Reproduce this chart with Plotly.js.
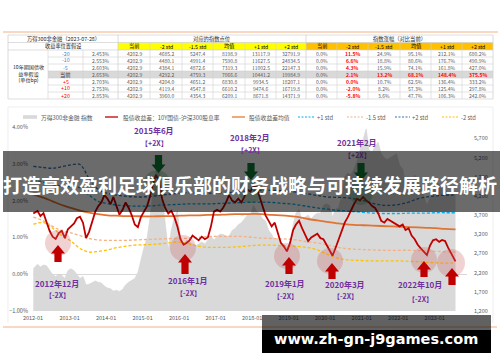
<!DOCTYPE html>
<html><head><meta charset="utf-8">
<script src="https://cdn.plot.ly/plotly-3.0.1.min.js"></script>
<style>html,body{margin:0;padding:0;background:#fff}#chart{width:500px;height:362px}</style>
</head><body><div id="chart"></div>
<script>
// ---------------- DATA ----------------
const seriesNames = ['万得300非金融 指数','股债收益差：10Y国债-沪深300股息率','股债收益差均值','+1 std','-1.5 std','+2 std','-2 std'];

// monthly, 2012-01 .. 2023-07 (right axis, index points)
const indexLevel = [
 2300,2420,2350,2400,2380,2250,2150,2100,2160,2130,2050,2250,
 2300,2250,2150,2050,2100,1880,1900,1950,1980,1950,1930,1850,
 1800,1780,1720,1740,1710,1760,1880,1950,2000,2050,2200,2550,
 2850,3100,3600,4300,4850,5000,4200,3500,2800,3300,3650,3800,
 3100,2850,3050,3000,2950,2900,2950,3000,2950,3050,3150,3050,
 3150,3200,3200,3150,3150,3300,3350,3450,3500,3600,3700,3700,
 3950,3800,3750,3600,3550,3300,3200,3050,3100,2950,2950,2850,
 2950,3450,3750,3850,3550,3650,3700,3600,3700,3750,3750,3950,
 4000,3950,3650,3850,3900,4200,4700,4800,4750,4900,5100,5400,
 5700,5950,5400,5350,5500,5600,5300,5200,5150,5200,5250,5300,
 5000,4900,4550,4200,4400,4750,4550,4450,4200,3950,4150,4200,
 4550,4500,4450,4400,4250,4200,4300];

// monthly, 2012-01 .. 2023-07 (left axis, %)
const spreadPct = [
 1.65,1.72,1.58,1.66,1.42,1.18,1.02,0.96,1.12,1.18,0.98,1.22,
 1.30,1.38,1.52,1.56,1.40,0.98,1.15,1.45,1.70,1.85,1.95,2.15,
 2.05,1.90,2.10,1.85,1.62,1.75,1.95,1.80,1.60,1.35,1.28,1.55,
 1.70,1.85,2.10,2.45,2.70,2.55,2.05,1.80,1.65,1.72,1.55,1.30,
 0.95,0.80,0.85,0.92,1.05,0.98,0.92,1.02,0.95,1.00,1.30,1.70,
 1.75,1.70,1.80,1.95,2.15,2.00,1.95,2.05,1.95,2.10,2.30,2.25,
 2.40,2.35,2.10,1.85,1.60,1.45,1.30,1.40,1.15,0.85,0.75,0.62,
 0.85,1.20,1.35,1.45,1.25,1.05,0.90,1.00,1.05,1.10,0.98,0.95,
 0.80,0.65,0.50,0.72,0.95,1.20,1.40,1.55,1.75,1.90,2.05,2.00,
 2.10,2.00,1.95,1.85,1.80,1.65,1.45,1.40,1.50,1.45,1.40,1.35,
 1.30,1.35,1.20,1.25,1.05,0.95,0.80,0.70,0.62,0.52,0.78,0.92,
 0.95,0.88,0.93,0.90,0.72,0.55,0.35];

// quarterly, 2012Q1 .. 2023Q3 (left axis, %)
const meanPct = [
 2.17,2.08,1.98,1.88, 1.80,1.73,1.67,1.63, 1.60,1.59,1.58,1.58, 1.57,1.57,1.58,1.58,
 1.59,1.60,1.60,1.61, 1.61,1.62,1.63,1.63, 1.64,1.63,1.61,1.60, 1.58,1.55,1.50,1.46,
 1.42,1.39,1.36,1.34, 1.33,1.32,1.31,1.30, 1.29,1.28,1.27,1.26, 1.25,1.23,1.22];
const plus1Pct = [
 2.55,2.50,2.43,2.40, 2.38,2.35,2.15,1.98, 1.92,1.88,1.86,1.85, 1.85,1.86,1.88,1.89,
 1.90,1.91,1.91,1.91, 1.92,1.93,1.94,1.95, 1.96,1.96,1.95,1.93, 1.91,1.88,1.84,1.80,
 1.77,1.74,1.72,1.70, 1.68,1.66,1.65,1.65, 1.65,1.66,1.66,1.66, 1.67,1.67,1.67];
const minus15Pct = [
 1.55,1.45,1.30,1.18, 1.12,1.05,0.97,0.93, 0.92,0.92,0.92,0.93, 0.94,0.95,0.96,0.97,
 0.97,0.98,1.00,1.02, 1.03,1.03,1.03,1.02, 1.00,0.98,0.97,0.96, 0.95,0.92,0.88,0.85,
 0.80,0.74,0.70,0.68, 0.67,0.66,0.65,0.65, 0.65,0.65,0.64,0.63, 0.62,0.61,0.60];
const plus2Pct = [
 2.93,2.90,2.88,2.92, 2.97,2.98,2.60,2.30, 2.20,2.15,2.12,2.10, 2.10,2.12,2.15,2.18,
 2.20,2.21,2.20,2.20, 2.21,2.22,2.23,2.25, 2.27,2.28,2.28,2.27, 2.25,2.22,2.18,2.14,
 2.10,2.09,2.08,2.05, 2.00,1.93,1.88,1.87, 1.90,1.96,2.05,2.10, 2.13,2.15,2.15];
const minus2Pct = [
 1.36,1.40,1.25,1.05, 0.90,0.70,0.60,0.62, 0.66,0.72,0.76,0.79, 0.80,0.81,0.83,0.86,
 0.87,0.82,0.76,0.73, 0.73,0.73,0.74,0.76, 0.78,0.79,0.79,0.78, 0.77,0.75,0.72,0.66,
 0.55,0.45,0.40,0.38, 0.37,0.36,0.36,0.36, 0.36,0.35,0.34,0.32, 0.31,0.30,0.30];

const rightTicks = [1200,1700,2200,2700,3200,3700,4200,4700,5200,5700];

// table
const tableTitle = '万得300非金融（2023-07-28）';
const tableSub = '收益率位置假设';
const sectionPoints = '对应的指数点位';
const sectionChange = '指数涨幅（对比当前）';
const rowLabel = '10年期国债收<br>益率假设<br>(单位bp)';
const yieldShifts = ['-20','-10','-5','当前','+5','+10','+20'];
const yieldLevels = ['2.453%','2.553%','2.603%','2.653%','2.703%','2.753%','2.853%'];
const stdHeads = ['当前','-2 std','-1.5 std','均值','+1 std','+2 std'];
const idxPoints = [
 [4202.9,4685.2,5247.4,8198.9,13117.9,32791.9],
 [4202.9,4480.1,4991.4,7590.8,11627.5,24834.5],
 [4202.9,4384.1,4872.6,7319.3,11002.5,22147.3],
 [4202.9,4292.2,4759.3,7066.6,10441.2,19984.9],
 [4202.9,4204.0,4651.2,6830.8,9934.5,18207.1],
 [4202.9,4119.4,4547.8,6610.2,9474.6,16719.8],
 [4202.9,3960.0,4354.3,6209.1,8671.8,14371.9]];
const idxChange = [
 [0.0,11.5,24.9,95.1,212.1,680.2],
 [0.0,6.6,18.8,80.6,176.7,490.9],
 [0.0,4.3,15.9,74.1,161.8,427.0],
 [0.0,2.1,13.2,68.1,148.4,375.5],
 [0.0,0.0,10.7,62.5,136.4,333.2],
 [0.0,-2.0,8.2,57.3,125.4,297.8],
 [0.0,-5.8,3.6,47.7,106.3,242.0]];

const topNotes = ['2015年6月','2018年2月','2021年2月'];
const bottomNotes = ['2012年12月','2016年1月','2019年1月','2020年3月','2022年10月'];
const upTag = '【+2X】', downTag = '【-2X】';
const bannerText = '打造高效盈利足球俱乐部的财务战略与可持续发展路径解析';
const urlText = 'www.zh-gn-j9games.com';

// dates
const months = [];
for (let y = 2012; y <= 2023; y++) for (let m = 1; m <= 12; m++) {
  if (y === 2023 && m > 7) break;
  months.push(y + '-' + String(m).padStart(2,'0') + '-15');
}
months[0] = '2012-01-04'; months[months.length-1] = '2023-07-28';
const quarters = [];
for (let y = 2012; y <= 2023; y++) for (const m of [1,4,7,10]) {
  if (y === 2023 && m > 7) break;
  quarters.push(y + '-' + String(m).padStart(2,'0') + '-15');
}
quarters[0] = '2012-01-04'; quarters[quarters.length-1] = '2023-07-28';

// ---------------- GEOMETRY HELPERS ----------------
const W = 500, H = 362, ML = 33, MR = 33, MT = 127, MB = 51;
const PW = W - ML - MR, PH = H - MT - MB;
const fx = x => (x - ML) / PW;
const fy = y => (H - MB - y) / PH;
const FONT = 'Noto Sans CJK SC, Noto Sans, sans-serif';

const shapes = [];
const annotations = [];
function rect(x0, y0, x1, y1, fill, layer) {
  shapes.push({type:'rect', xref:'paper', yref:'paper', x0:fx(x0), x1:fx(x1), y0:fy(y1), y1:fy(y0),
    fillcolor: fill, line:{width:0}, layer: layer || 'above'});
}
function line(x0, y0, x1, y1, color, width, dash) {
  shapes.push({type:'line', xref:'paper', yref:'paper', x0:fx(x0), x1:fx(x1), y0:fy(y0), y1:fy(y1),
    line:{color:color, width:width, dash: dash || 'solid'}, layer:'above'});
}
function text(t, x, y, size, color, anchor, extra) {
  annotations.push(Object.assign({text:t, x:fx(x), y:fy(y), xref:'paper', yref:'paper', showarrow:false,
    xanchor: anchor || 'center', yanchor:'middle', borderpad:0,
    font:{family:FONT, size:size, color:color}}, extra || {}));
}
function circle(cx, cy, r, fill) {
  shapes.push({type:'circle', xref:'paper', yref:'paper', x0:fx(cx-r), x1:fx(cx+r), y0:fy(cy+r), y1:fy(cy-r),
    fillcolor: fill, line:{width:0}, layer:'above'});
}
function poly(pts, fill) {
  const p = pts.map((q,i) => (i ? 'L' : 'M') + fx(q[0]).toFixed(5) + ',' + fy(q[1]).toFixed(5)).join(' ') + ' Z';
  shapes.push({type:'path', xref:'paper', yref:'paper', path:p, fillcolor:fill, line:{width:0}, layer:'above'});
}
function upArrow(cx, top, bottom, fill) {
  const hw = 7, sw = 3.6, hh = 8.5;
  poly([[cx,top],[cx+hw,top+hh],[cx+sw,top+hh],[cx+sw,bottom],[cx-sw,bottom],[cx-sw,top+hh],[cx-hw,top+hh]], fill);
}
function downArrow(cx, top, bottom, fill) {
  const hw = 7, sw = 3.6, hh = 8.5;
  poly([[cx,bottom],[cx+hw,bottom-hh],[cx+sw,bottom-hh],[cx+sw,top],[cx-sw,top],[cx-sw,bottom-hh],[cx-hw,bottom-hh]], fill);
}

// ---------------- TABLE ----------------
line(3, 32, 498, 32, '#F4B183', 1.2);
const colEdges = [8,48,83,118,150,182,213,245,276,306,337,368,400,431,462,493];
const rowEdges = [35,42.5,50,57,64,71,78,85,92,99];
rect(118, 42.5, 306, 50, '#FFFF00');
rect(306, 42.5, 493, 50, '#FFC000');
rect(48, 71, 493, 78, '#D9D9D9');
const GL = '#D0D0D0';
[35,42.5,50,99].forEach(y => line(8, y, 493, y, GL, 0.7));
[57,64,71,78,85,92].forEach(y => line(48, y, 493, y, GL, 0.6));
[8,118,306,493].forEach(x => line(x, 35, x, 99, GL, 0.8));
[48,83].forEach(x => line(x, 50, x, 99, GL, 0.6));
[150,182,213,245,276,337,368,400,431,462].forEach(x => line(x, 42.5, x, 99, GL, 0.6));

const cc = i => (colEdges[i] + colEdges[i+1]) / 2;
const rc = i => (rowEdges[i] + rowEdges[i+1]) / 2;
text(tableTitle, 63, rc(0), 5.3, '#262626');
text(sectionPoints, 212, rc(0), 5.3, '#262626');
text(sectionChange, 399.5, rc(0), 5.3, '#262626');
text(tableSub, 63, rc(1), 5.2, '#262626');
stdHeads.forEach((h, j) => { text(h, cc(3+j), rc(1), 5.2, '#000'); text(h, cc(9+j), rc(1), 5.2, '#000'); });
text(rowLabel, 28, 73, 5.1, '#262626');
yieldShifts.forEach((s, i) => {
  const col = s.startsWith('-') ? '#2E8BD8' : (s.startsWith('+') ? '#FF0000' : '#404040');
  text(s, cc(1), rc(2+i), 5.3, col);
  text(yieldLevels[i], cc(2), rc(2+i), 5, '#595959');
  idxPoints[i].forEach((v, j) => text(v.toFixed(1), cc(3+j), rc(2+i), 5, '#595959'));
  idxChange[i].forEach((v, j) => {
    const red = (j === 1) || (i === 3 && j > 0);
    text(red ? '<b>' + v.toFixed(1) + '%</b>' : v.toFixed(1) + '%', cc(9+j), rc(2+i), 5, red ? '#FF0000' : '#595959');
  });
});

// ---------------- CARD + LEGEND ----------------
line(8, 107, 493, 107, '#E6E6E6', 0.7);
line(8, 107, 8, 323, '#E6E6E6', 0.7);
line(493, 107, 493, 323, '#E6E6E6', 0.7);
const LY = 117;
rect(23, LY-1.8, 37, LY+1.8, '#D9D9D9');
text(seriesNames[0], 40, LY, 5.8, '#595959', 'left');
line(105, LY, 118, LY, '#C00000', 1.3);
text(seriesNames[1], 122, LY, 5.8, '#595959', 'left');
line(232, LY, 245, LY, '#E8793A', 1.3);
text(seriesNames[2], 248, LY, 5.8, '#595959', 'left');
line(298, LY, 314, LY, '#00B0F0', 1.2, '2px,1.5px');
text(seriesNames[3], 316, LY, 5.8, '#595959', 'left');
line(347, LY, 363, LY, '#F4B183', 1.2, '2px,1.5px');
text(seriesNames[4], 365, LY, 5.8, '#595959', 'left');
line(395, LY, 410, LY, '#2E75B6', 1.2, '2px,1.5px');
text(seriesNames[5], 411, LY, 5.8, '#595959', 'left');
line(442, LY, 458, LY, '#FFC000', 1.2, '2px,1.5px');
text(seriesNames[6], 460, LY, 5.8, '#595959', 'left');

// ---------------- MARKERS ----------------
const PINK = 'rgba(205,95,95,0.28)', GREENC = 'rgba(40,150,80,0.28)';
const DRED = '#C00000', DGREEN = '#0E7A34';
circle(157, 183, 13, GREENC); downArrow(158.5, 155, 173, DGREEN);
circle(251, 191, 12, GREENC); downArrow(251, 163, 180, DGREEN);
circle(361, 193, 12, GREENC); downArrow(361, 163, 181, DGREEN);
circle(58, 243, 13, PINK);  upArrow(58, 245, 262, DRED);
circle(183, 248, 13, PINK); upArrow(185, 254, 274, DRED);
circle(287, 256, 13, PINK); upArrow(289, 257, 274, DRED);
circle(330, 261, 13, PINK); upArrow(332, 263, 279, DRED);
circle(424, 260, 13, PINK); upArrow(424, 261, 277, DRED);
circle(451, 263, 14, PINK); upArrow(452, 268, 285, DRED);

const PURPLE = '#7030A0';
const topPos = [[154,130,143],[250,137,150],[357,142,155]];
topNotes.forEach((t, i) => {
  text('<b>' + t + '</b>', topPos[i][0], topPos[i][1], 8, PURPLE);
  text('<b>' + upTag + '</b>', topPos[i][0], topPos[i][2], 7, i === 2 ? '#3A1C55' : PURPLE);
});
const botPos = [[57,283,295],[188,280,293],[285,283,296],[345,284,296],[420,284,299]];
bottomNotes.forEach((t, i) => {
  text('<b>' + t + '</b>', botPos[i][0], botPos[i][1], 8, PURPLE);
  text('<b>' + downTag + '</b>', botPos[i][0], botPos[i][2], 7, PURPLE);
});

// ---------------- OVERLAYS ----------------
line(3, 327, 497, 327, '#F4B183', 1.2);
rect(3, 151, 500, 212, 'rgba(0,0,0,0.58)');
text('<b>' + bannerText + '</b>', 250, 184, 19, '#FFFFFF');
rect(262, 315, 491, 330, 'rgba(0,0,0,0.62)');
rect(262, 330, 491, 353, '#000000');
annotations.push({text:'<b>' + urlText + '</b>', x:fx(376), y:fy(338.5), xref:'paper', yref:'paper',
  showarrow:false, xanchor:'center', yanchor:'middle', font:{family:'DejaVu Sans', size:14.5, color:'#FFFFFF'}});

// ---------------- TRACES ----------------
const dash = '3px,2px';
const traces = [
  {x: months, y: indexLevel, type:'scatter', mode:'lines', yaxis:'y', fill:'tozeroy',
   fillcolor:'#D9D9D9', line:{color:'#D4D4D4', width:0.6}, name: seriesNames[0]},
  {x: quarters, y: meanPct, type:'scatter', mode:'lines', yaxis:'y2', line:{color:'#E07434', width:1.8, shape:'spline'}, name: seriesNames[2]},
  {x: quarters, y: plus1Pct, type:'scatter', mode:'lines', yaxis:'y2', line:{color:'#00B0F0', width:1.3, dash:dash, shape:'spline'}, name: seriesNames[3]},
  {x: quarters, y: minus15Pct, type:'scatter', mode:'lines', yaxis:'y2', line:{color:'#F4B183', width:1.3, dash:dash, shape:'spline'}, name: seriesNames[4]},
  {x: quarters, y: plus2Pct, type:'scatter', mode:'lines', yaxis:'y2', line:{color:'#2E75B6', width:1.3, dash:dash, shape:'spline'}, name: seriesNames[5]},
  {x: quarters, y: minus2Pct, type:'scatter', mode:'lines', yaxis:'y2', line:{color:'#FFC000', width:1.3, dash:dash, shape:'spline'}, name: seriesNames[6]},
  {x: months, y: spreadPct, type:'scatter', mode:'lines', yaxis:'y2', line:{color:'#C00000', width:1.8}, name: seriesNames[1]}
];

const tickFont = {family: FONT, size: 5.5, color: '#595959'};
const layout = {
  width: W, height: H,
  margin: {l: ML, r: MR, t: MT, b: MB, pad: 0},
  paper_bgcolor: '#FFFFFF', plot_bgcolor: 'rgba(0,0,0,0)',
  showlegend: false,
  font: {family: FONT},
  xaxis: {type:'date', range:['2012-01-01','2023-11-20'], tickformat:'%Y-%m', dtick:'M12', tick0:'2012-01-01',
          showgrid:false, zeroline:false, showline:false, ticks:'', tickfont: tickFont, ticklabelstandoff: 2},
  yaxis: {side:'right', range:[1200, 6000], tickvals: rightTicks, tickformat:',', showgrid:false, zeroline:false,
          showline:false, ticks:'', tickfont: tickFont, ticklabelstandoff: 6},
  yaxis2: {overlaying:'y', side:'left', range:[-1, 4], dtick:1, tick0:0, tickformat:'.2f', ticksuffix:'%',
           showgrid:false, zeroline:true, zerolinecolor:'#D0D0D0', zerolinewidth:0.8, showline:false, ticks:'',
           tickfont: tickFont, ticklabelstandoff: 4},
  shapes: shapes,
  annotations: annotations
};

Plotly.newPlot('chart', traces, layout, {staticPlot: true, displayModeBar: false});
</script>
</body></html>
